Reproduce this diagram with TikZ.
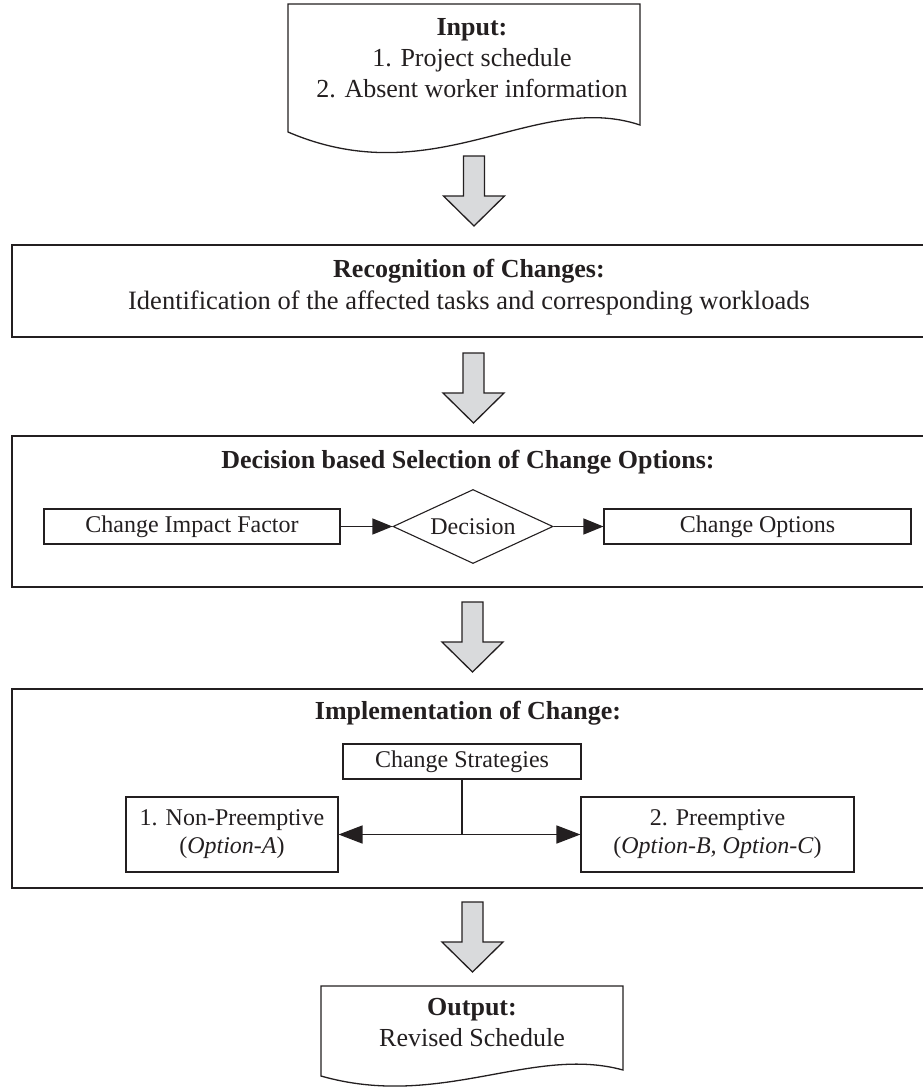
\documentclass[tikz,border=0pt]{standalone}
\usepackage{fontspec}
\setmainfont{Liberation Serif}
\usetikzlibrary{shapes.geometric,arrows.meta}
\definecolor{arrowgray}{RGB}{217,218,220}
\definecolor{ink}{RGB}{35,31,32}
\newcommand\blockarrowdown[2]{%
  \filldraw[blockarrow] (#1-10.5,#2) -- (#1+10.5,#2) -- (#1+10.5,#2+40) -- (#1+30.5,#2+40) -- (#1,#2+70) -- (#1-30.5,#2+40) -- (#1-10.5,#2+40) -- cycle;}
\begin{document}
\begin{tikzpicture}[x=1pt,y=-1pt,
  every node/.style={font=\fontsize{26}{31}\selectfont, inner sep=0pt, align=center, text=ink},
  bigbox/.style={draw=ink, line width=1.6pt},
  smallbox/.style={draw=ink, line width=1.1pt, font=\fontsize{24}{28}\selectfont},
  docline/.style={draw=ink, line width=1.3pt, fill=white},
  blockarrow/.style={draw=ink, line width=1.3pt, fill=arrowgray, line join=miter},
  conn/.style={draw=ink, line width=1.2pt, -{Triangle[length=20pt,width=16pt]}},
  connboth/.style={draw=ink, line width=1.6pt, {Triangle[length=24pt,width=18pt]}-{Triangle[length=24pt,width=18pt]}},
]
\useasboundingbox (0,0) rectangle (922,1090);

% Input document
\draw[docline] (288,4) -- (640,4) -- (640,125)
  .. controls (535,90) and (435,195) .. (288,132) -- cycle;
\node (input) at (472,58) {\textbf{Input:}\\1. Project schedule\\2. Absent worker information};

\blockarrowdown{474}{156}

% Recognition
\node[bigbox, minimum width=912pt, minimum height=92pt] (recbox) at (468,291) {};
\node (rectext) at (469,287) {\textbf{Recognition of Changes:}\\[0.5pt]\fontsize{26.5}{31}\selectfont Identification of the affected tasks and corresponding workloads};

\blockarrowdown{473.5}{353}

% Decision
\node[bigbox, minimum width=912pt, minimum height=151pt] (decbox) at (468,511.5) {};
\node (dectitle) at (468,462) {\textbf{Decision based Selection of Change Options:}};
\node[smallbox, minimum width=296pt, minimum height=35pt] (cif) at (192,526.5) {Change Impact Factor};
\node[smallbox, diamond, aspect=2.16, minimum width=160pt, minimum height=74pt] (dec) at (473,526.5) {Decision};
\node[smallbox, minimum width=307pt, minimum height=35pt] (co) at (757.5,526.5) {Change Options};
\draw[conn] (cif) -- (dec);
\draw[conn] (dec) -- (co);

\blockarrowdown{472.5}{602}

% Implementation
\node[bigbox, minimum width=912pt, minimum height=199pt] (impbox) at (468,788.5) {};
\node (imptitle) at (468,713) {\textbf{Implementation of Change:}};
\node[smallbox, minimum width=238pt, minimum height=35pt] (cs) at (462,761.5) {Change Strategies};
\node[smallbox, minimum width=212pt, minimum height=75pt] (nonpre) at (232,834.5) {1. Non-Preemptive\\(\textit{Option-A})};
\node[smallbox, minimum width=273pt, minimum height=75pt] (pre) at (717.5,834.5) {2. Preemptive\\(\textit{Option-B, Option-C})};
\coordinate (junc) at (cs.south |- nonpre.east);
\draw[draw=ink, line width=1.6pt] (cs.south) -- (junc);
\draw[connboth] (nonpre.east) -- (pre.west);

\blockarrowdown{472.5}{902}

% Output document
\draw[docline] (321,986) -- (623,986) -- (623,1070)
  .. controls (532,1045) and (440,1110) .. (321,1076) -- cycle;
\node (output) at (472,1023) {\textbf{Output:}\\Revised Schedule};
\end{tikzpicture}
\end{document}
